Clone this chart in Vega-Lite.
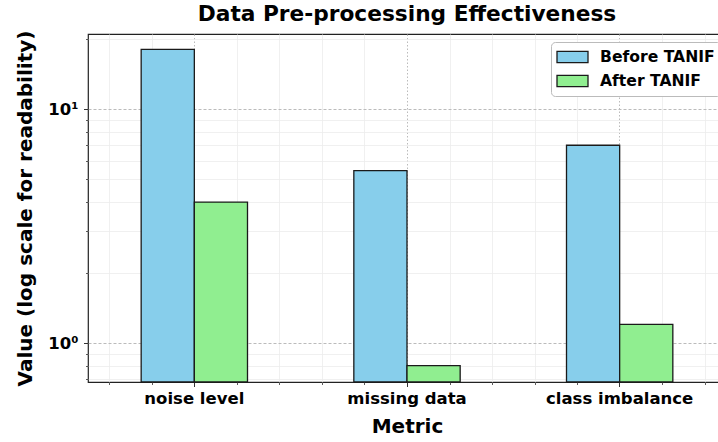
{
  "$schema": "https://vega.github.io/schema/vega-lite/v6.json",
  "width": 638,
  "height": 348,
  "autosize": {"type": "none"},
  "padding": {"left": 88, "top": 34, "right": 0, "bottom": 60},
  "background": "#ffffff",
  "title": {"text": "Data Pre-processing Effectiveness", "fontSize": 21.7, "fontWeight": "bold", "font": "DejaVu Sans", "color": "#000000", "anchor": "middle", "baseline": "alphabetic", "offset": 11, "dy": 24, "frame": "group"},
  "config": {
    "font": "DejaVu Sans",
    "view": {"stroke": "#222222", "strokeWidth": 1.2},
    "axis": {"labelColor": "#000000", "titleColor": "#000000", "labelFont": "DejaVu Sans", "titleFont": "DejaVu Sans", "tickColor": "#333333"}
  },
  "data": {"values": [
    {"Metric": "noise level", "Stage": "Before TANIF", "Value": 18},
    {"Metric": "noise level", "Stage": "After TANIF", "Value": 4},
    {"Metric": "missing data", "Stage": "Before TANIF", "Value": 5.45},
    {"Metric": "missing data", "Stage": "After TANIF", "Value": 0.8},
    {"Metric": "class imbalance", "Stage": "Before TANIF", "Value": 7},
    {"Metric": "class imbalance", "Stage": "After TANIF", "Value": 1.2}
  ]},
  "layer": [
    {
      "mark": {"type": "point", "opacity": 0},
      "encoding": {
        "x": {"datum": 0, "type": "quantitative", "scale": {"domain": [-0.5, 2.5], "nice": false, "zero": false},
          "axis": {"orient": "bottom", "values": [-0.4, -0.2, 0.2, 0.4, 0.6, 0.8, 1.2, 1.4, 1.6, 1.8, 2.2, 2.4], "labels": false, "domain": false, "tickSize": 2.5, "tickWidth": 0.8, "grid": true, "gridColor": "#ececec", "gridWidth": 0.8, "title": null}},
        "y": {"datum": 1, "type": "quantitative", "scale": {"type": "log", "domain": [0.6813, 20.92], "nice": false},
          "axis": {"orient": "left", "values": [0.7, 0.8, 0.9, 2, 3, 4, 5, 6, 7, 8, 9, 20], "labels": false, "domain": false, "tickSize": 2.5, "tickWidth": 0.8, "grid": true, "gridColor": "#ececec", "gridWidth": 0.8, "title": null}}
      }
    },
    {
      "mark": {"type": "bar", "stroke": "#1a1a1a", "strokeWidth": 1.3},
      "encoding": {
        "x": {"field": "Metric", "type": "nominal", "sort": ["noise level", "missing data", "class imbalance"],
          "scale": {"paddingInner": 0, "paddingOuter": 0},
          "axis": {"orient": "bottom", "labelAngle": 0, "bandPosition": 0.5, "tickSize": 4.5, "domain": false, "grid": true, "gridDash": [1.5, 2], "gridColor": "#bbbbbb", "labelFontSize": 16.5, "labelFontWeight": "bold", "labelPadding": 3.5, "title": "Metric", "titleFontSize": 20, "titleFontWeight": "bold", "titlePadding": 10}},
        "xOffset": {"field": "Stage", "type": "nominal", "sort": ["Before TANIF", "After TANIF"], "scale": {"paddingInner": 0, "paddingOuter": 1}},
        "y": {"field": "Value", "type": "quantitative", "scale": {"type": "log", "domain": [0.6813, 20.92], "nice": false},
          "axis": {"orient": "left", "values": [1, 10], "labelExpr": "datum.value == 1 ? '10⁰' : '10¹'", "tickSize": 4.5, "domain": false, "grid": true, "gridDash": [3, 2], "gridColor": "#bbbbbb", "labelFontSize": 16.5, "labelFontWeight": "bold", "labelPadding": 5.5, "title": "Value (log scale for readability)", "titleFontSize": 20, "titleFontWeight": "bold", "titlePadding": 12}},
        "y2": {"datum": 0.6813},
        "fill": {"field": "Stage", "type": "nominal", "sort": ["Before TANIF", "After TANIF"],
          "scale": {"domain": ["Before TANIF", "After TANIF"], "range": ["#87CEEB", "#90EE90"]},
          "legend": {"title": null, "orient": "none", "legendX": 463, "legendY": 8, "direction": "vertical", "symbolType": "M-1.125,-0.7H2.75V0.7H-1.125Z", "symbolSize": 256, "symbolStrokeColor": "#1a1a1a", "symbolStrokeWidth": 1.3, "symbolOpacity": 1, "labelFontSize": 15.6, "labelFontWeight": "bold", "labelColor": "#000000", "labelOffset": 25, "rowPadding": 6, "padding": 6, "strokeColor": "#bbbbbb", "fillColor": "#ffffff", "cornerRadius": 4}}
      }
    }
  ],
  "resolve": {"scale": {"x": "independent"}, "axis": {"x": "independent", "y": "independent"}}
}
